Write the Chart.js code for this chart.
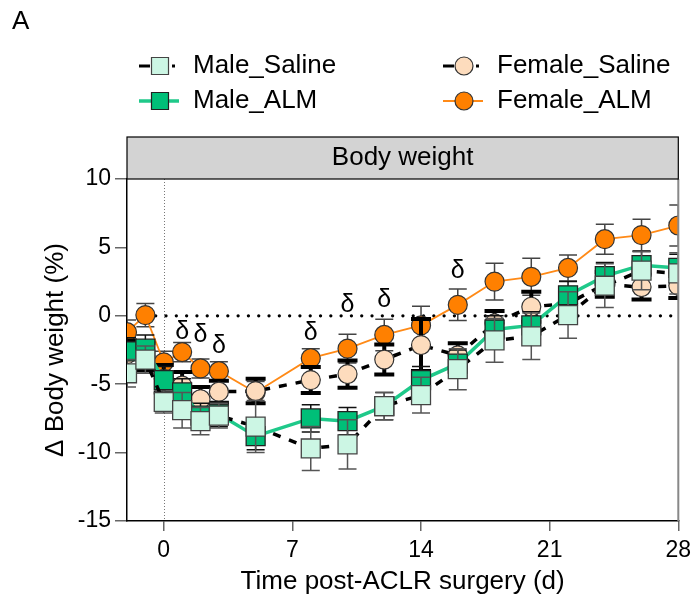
<!DOCTYPE html>
<html>
<head>
<meta charset="utf-8">
<script src="https://cdn.jsdelivr.net/npm/chart.js@4"></script>
<style>
  html, body { margin: 0; padding: 0; background: #fff; }
  canvas { display: block; }
</style>
</head>
<body>
<canvas id="chart" width="693" height="603"></canvas>
<script>
const FONT = "'Liberation Sans', Arial, sans-serif";

// days post surgery
const days = [-2, -1, 0, 1, 2, 3, 5, 8, 10, 12, 14, 16, 18, 20, 22, 24, 26, 28];

// mean change in body weight (%) and SEM per group
const maleSaline      = [-4.2, -3.2, -6.3, -6.9, -7.7, -7.3, -8.1, -9.7, -9.4, -6.6, -5.8, -3.9, -1.8, -1.5, 0.05, 2.2, 3.3, 3.1];
const maleSalineErr   = [1.0, 1.0, 0.8, 1.3, 1.0, 0.9, 1.9, 1.6, 1.8, 1.0, 1.3, 1.5, 1.6, 1.7, 1.7, 1.6, 1.4, 1.5];
const maleALM         = [-2.6, -2.4, -4.7, -5.6, -7.3, -7.2, -8.8, -7.5, -7.7, -6.6, -4.7, -3.5, -1.0, -0.7, 1.5, 2.9, 3.7, 3.5];
const maleALMErr      = [1.0, 1.0, 1.0, 1.0, 0.9, 0.9, 1.0, 1.0, 1.0, 1.0, 1.0, 1.0, 1.0, 1.0, 1.0, 1.0, 1.0, 1.0];
const femaleSaline    = [-2.8, -3.0, -4.6, -5.1, -6.1, -5.55, -5.5, -4.7, -4.26, -3.2, -2.14, -2.9, -0.55, 0.66, 0.9, 2.3, 2.1, 2.2];
const femaleSalineErr = [1.0, 1.0, 1.0, 1.0, 0.9, 0.8, 0.9, 0.95, 1.0, 1.1, 1.9, 0.9, 0.9, 1.1, 1.0, 0.9, 0.9, 0.9];
const femaleALM       = [-1.2, 0.05, -3.4, -2.65, -3.85, -4.05, -5.6, -3.1, -2.4, -1.4, -0.7, 0.8, 2.5, 2.85, 3.5, 5.6, 5.9, 6.6];
const femaleALMErr    = [0.9, 0.85, 0.8, 0.7, 0.7, 0.7, 0.8, 0.7, 1.05, 1.15, 1.4, 1.15, 1.35, 1.35, 0.95, 1.1, 1.15, 1.5];

const seriesNames = ['Male_Saline', 'Male_ALM', 'Female_Saline', 'Female_ALM'];
const xTicks = [0, 7, 14, 21, 28];

// "δ" significance marks (day, y position in %)
const deltaDays = [1, 2, 3, 8, 10, 12, 16];
const deltaY    = [-1.2, -1.4, -2.2, -1.3, 0.8, 1.15, 3.25];

const errs = [maleSalineErr, maleALMErr, femaleSalineErr, femaleALMErr];
const errStyle = [
    { color: '#555', width: 1.5, cap: 9 },
    { color: '#111', width: 1.5, cap: 9 },
    { color: '#000', width: 4, cap: 10 },
    { color: '#444', width: 1.5, cap: 9 }
];

function pts(vals) {
    return days.map((d, i) => ({ x: d, y: vals[i] }));
}

const errorBars = {
    id: 'errorBars',
    beforeDatasetDraw(chart, args) {
        const { ctx, chartArea: a, scales: { x, y } } = chart;
        const i = args.index;
        const st = errStyle[i];
        const vals = chart.data.datasets[i].data;
        ctx.save();
        ctx.beginPath();
        ctx.rect(a.left, a.top, a.right - a.left, a.bottom - a.top);
        ctx.clip();
        ctx.strokeStyle = st.color;
        ctx.lineWidth = st.width;
        vals.forEach((p, k) => {
            const px = x.getPixelForValue(p.x);
            const t = y.getPixelForValue(p.y + errs[i][k]);
            const b = y.getPixelForValue(p.y - errs[i][k]);
            ctx.beginPath();
            ctx.moveTo(px, t); ctx.lineTo(px, b);
            ctx.moveTo(px - st.cap, t); ctx.lineTo(px + st.cap, t);
            ctx.moveTo(px - st.cap, b); ctx.lineTo(px + st.cap, b);
            ctx.stroke();
        });
        ctx.restore();
    }
};

const refLines = {
    id: 'refLines',
    beforeDatasetsDraw(chart) {
        const { ctx, chartArea: a, scales: { x, y } } = chart;
        ctx.save();
        // vertical dotted at day 0
        ctx.strokeStyle = '#777';
        ctx.lineWidth = 1;
        ctx.setLineDash([1, 2]);
        const x0 = Math.round(x.getPixelForValue(0)) + 0.5;
        ctx.beginPath(); ctx.moveTo(x0, a.top); ctx.lineTo(x0, a.bottom); ctx.stroke();
        // horizontal dotted at 0 %
        ctx.strokeStyle = '#000';
        ctx.lineWidth = 3.2;
        ctx.lineCap = 'round';
        ctx.setLineDash([0.1, 10.2]);
        const y0 = y.getPixelForValue(0);
        ctx.beginPath(); ctx.moveTo(x.getPixelForValue(-1), y0); ctx.lineTo(a.right, y0); ctx.stroke();
        ctx.restore();
    },
    afterDatasetsDraw(chart) {
        const { ctx, chartArea: a, scales: { x, y } } = chart;
        ctx.save();
        ctx.strokeStyle = '#888';
        ctx.lineWidth = 2;
        ctx.beginPath(); ctx.moveTo(a.right, a.top); ctx.lineTo(a.right, a.bottom); ctx.stroke();
        ctx.fillStyle = '#000';
        ctx.font = '25px ' + FONT;
        ctx.textAlign = 'center';
        ctx.textBaseline = 'middle';
        deltaDays.forEach((d, k) => {
            ctx.fillText('δ', x.getPixelForValue(d), y.getPixelForValue(deltaY[k]));
        });
        ctx.restore();
    }
};

function drawIcon(ctx, ds, cx, cy) {
    ctx.save();
    ctx.strokeStyle = ds.borderColor;
    if (ds.borderDash) {
        ctx.lineWidth = 3;
        ctx.beginPath(); ctx.moveTo(cx - 21, cy); ctx.lineTo(cx - 10, cy); ctx.stroke();
        ctx.beginPath(); ctx.moveTo(cx + 12, cy); ctx.lineTo(cx + 15, cy); ctx.stroke();
    } else {
        ctx.lineWidth = ds.borderWidth;
        ctx.beginPath(); ctx.moveTo(cx - 21, cy); ctx.lineTo(cx + 19, cy); ctx.stroke();
    }
    ctx.fillStyle = ds.pointBackgroundColor;
    ctx.strokeStyle = ds.pointBorderColor;
    ctx.lineWidth = 1.2;
    ctx.beginPath();
    if (ds.pointStyle === 'rect') ctx.rect(cx - 8.5, cy - 8.5, 17, 17);
    else ctx.arc(cx, cy, 9, 0, Math.PI * 2);
    ctx.fill(); ctx.stroke();
    ctx.restore();
}

const decorations = {
    id: 'decorations',
    afterDraw(chart) {
        const { ctx, chartArea: a } = chart;
        ctx.save();
        // panel letter
        ctx.fillStyle = '#000';
        ctx.font = '26px ' + FONT;
        ctx.textBaseline = 'middle';
        ctx.textAlign = 'left';
        ctx.fillText('A', 12, 22);
        // header strip
        ctx.fillStyle = '#d3d3d3';
        ctx.fillRect(a.left, 137, a.right - a.left, a.top - 137);
        ctx.strokeStyle = '#000';
        ctx.lineWidth = 1.2;
        ctx.strokeRect(a.left, 137, a.right - a.left, a.top - 137);
        ctx.fillStyle = '#000';
        ctx.font = '26px ' + FONT;
        ctx.textAlign = 'center';
        ctx.fillText('Body weight', (a.left + a.right) / 2, 158);
        // legend: two columns
        const spots = [[160, 66], [160, 101], [464, 66], [464, 101]];
        chart.data.datasets.forEach((ds, i) => {
            const [cx, cy] = spots[i];
            drawIcon(ctx, ds, cx, cy);
            ctx.fillStyle = '#000';
            ctx.font = '26px ' + FONT;
            ctx.textAlign = 'left';
            ctx.textBaseline = 'middle';
            ctx.fillText(ds.label, cx + 33, cy);
        });
        ctx.restore();
    }
};

new Chart(document.getElementById('chart'), {
    type: 'line',
    data: {
        datasets: [{
            label: seriesNames[0],
            data: pts(maleSaline),
            borderColor: '#000',
            borderWidth: 3.5,
            borderDash: [8, 9],
            pointStyle: 'rect',
            pointRadius: 13.4,
            pointBackgroundColor: '#ccf6e4',
            pointBorderColor: '#444',
            pointBorderWidth: 1.3
        }, {
            label: seriesNames[1],
            data: pts(maleALM),
            borderColor: '#1fc98a',
            borderWidth: 3.5,
            pointStyle: 'rect',
            pointRadius: 13.4,
            pointBackgroundColor: '#00bf78',
            pointBorderColor: '#222',
            pointBorderWidth: 1.3
        }, {
            label: seriesNames[2],
            data: pts(femaleSaline),
            borderColor: '#000',
            borderWidth: 3.5,
            borderDash: [8, 9],
            pointStyle: 'circle',
            pointRadius: 9.5,
            pointBackgroundColor: '#fddcbd',
            pointBorderColor: '#333',
            pointBorderWidth: 1.2
        }, {
            label: seriesNames[3],
            data: pts(femaleALM),
            borderColor: '#ff8a17',
            borderWidth: 1.8,
            pointStyle: 'circle',
            pointRadius: 9.5,
            pointBackgroundColor: '#ff8000',
            pointBorderColor: '#333',
            pointBorderWidth: 1.2
        }]
    },
    options: {
        responsive: false,
        animation: false,
        devicePixelRatio: 1,
        events: [],
        layout: { padding: { top: 179, right: 14, left: 0, bottom: 0 } },
        plugins: { legend: { display: false }, tooltip: { enabled: false } },
        scales: {
            x: {
                type: 'linear',
                min: -2,
                max: 28,
                afterBuildTicks: s => { s.ticks = xTicks.map(v => ({ value: v })); },
                afterFit: s => { s.height = 82; s.paddingLeft = 0; s.paddingRight = 0; },
                grid: { drawOnChartArea: false, tickLength: 10, color: '#666', lineWidth: 1.5 },
                border: { color: '#000', width: 1.5 },
                ticks: { font: { family: FONT, size: 23 }, color: '#000', padding: 6, maxRotation: 0, autoSkip: false },
                title: { display: true, text: 'Time post-ACLR surgery (d)', color: '#000', font: { family: FONT, size: 26 }, padding: { top: 0, bottom: 6 } }
            },
            y: {
                min: -15,
                max: 10,
                afterFit: s => { s.width = 127; },
                grid: { drawOnChartArea: false, tickLength: 12, color: '#666', lineWidth: 1.5 },
                border: { color: '#000', width: 1.5 },
                ticks: { stepSize: 5, font: { family: FONT, size: 23 }, color: '#000', padding: 4 },
                title: { display: true, text: 'Δ Body weight (%)', color: '#000', font: { family: FONT, size: 26 }, padding: { top: 40, bottom: 0 } }
            }
        }
    },
    plugins: [refLines, errorBars, decorations]
});
</script>
</body>
</html>
